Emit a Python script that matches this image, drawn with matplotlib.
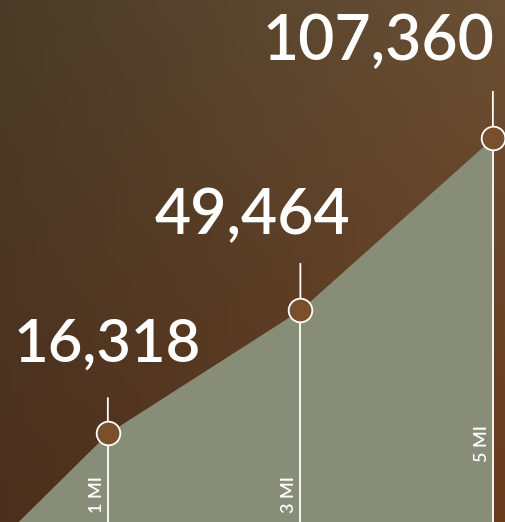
import numpy as np
import matplotlib
matplotlib.use("Agg")
import matplotlib.pyplot as plt
from matplotlib.colors import to_rgb

# Data
miles = [0, 1, 3, 5]
values = [0, 16318, 49464, 107360]
mile_labels = ["1 MI", "3 MI", "5 MI"]
value_labels = ["16,318", "49,464", "107,360"]

W, H, DPI = 505, 522, 100
fig = plt.figure(figsize=(W / DPI, H / DPI), dpi=DPI)

# Background gradient
bg = fig.add_axes([0, 0, 1, 1])
bg.set_axis_off()
tl, tr = np.array(to_rgb("#4a3c28")), np.array(to_rgb("#6a5035"))
bl, br = np.array(to_rgb("#4c2f1c")), np.array(to_rgb("#6a3a1c"))
u = np.linspace(0, 1, 200)[None, :, None]
v = np.linspace(0, 1, 200)[:, None, None]
img = (1 - v) * ((1 - u) * tl + u * tr) + v * ((1 - u) * bl + u * br)
bg.imshow(img, aspect="auto", extent=[0, 1, 0, 1], origin="upper")
bg.set_xlim(0, 1); bg.set_ylim(0, 1)

ax = fig.add_axes([0, 0, 1, 1])
ax.patch.set_alpha(0)
ax.set_axis_off()
p = 0.75
ax.set_yscale("function", functions=(lambda y: np.sign(y) * np.abs(y) ** p,
                                     lambda y: np.sign(y) * np.abs(y) ** (1 / p)))
ax.set_xlim(-0.1205, 5.126)
ax.set_ylim(409, 160600)

ax.fill_between(miles, values, 0, color="#878d77", linewidth=0, zorder=1)

px = 1.0 * 72 / DPI  # points per pixel
stubs = [35, 46, 46]
text_off = [(-1, 71), (-48, 76), (-114, 78)]
text_size = [43, 45, 45]
mile_off = [(-3, 9), (-3, 9), (-3, 60)]
for i, (m, val) in enumerate(zip(miles[1:], values[1:])):
    ax.plot([m, m], [1, val], color="white", lw=1.3, zorder=2, solid_capstyle="butt")
    ax.annotate("", xy=(m, val), xytext=(0, stubs[i] * px), textcoords="offset points",
                arrowprops=dict(arrowstyle="-", color="white", lw=1.3, shrinkA=0, shrinkB=0),
                zorder=2)
    ax.plot([m], [val], marker="o", ms=17, mfc="#7a4f2b", mec="white", mew=1.3,
            zorder=4, clip_on=False)
    dx, dy = text_off[i]
    ax.annotate(value_labels[i], xy=(m, val), xytext=(dx * px, dy * px),
                textcoords="offset points", ha="center", va="baseline",
                color="white", fontsize=text_size[i], fontfamily="Lato", fontweight="semibold",
                zorder=5)
    mx, my = mile_off[i]
    ax.annotate(mile_labels[i], xy=(m, 409), xytext=(mx * px, my * px),
                textcoords="offset points", ha="right", va="bottom", rotation=90,
                color="white", fontsize=13, fontfamily="Lato", fontweight="semibold",
                zorder=5)

fig.savefig("out.png", dpi=DPI)
